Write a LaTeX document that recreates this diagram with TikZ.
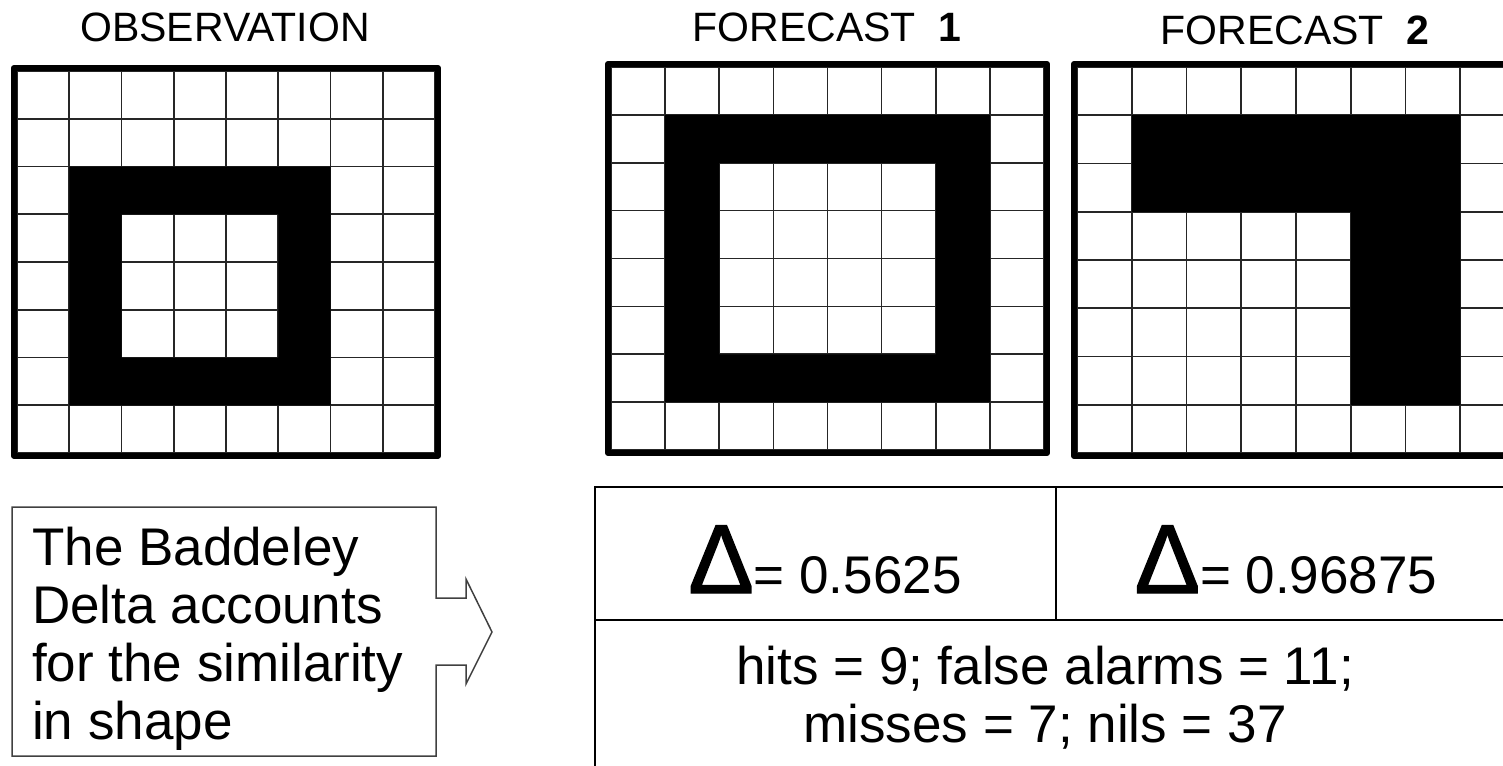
\documentclass[tikz,border=0pt]{standalone}
\usepackage{fontspec}
\setmainfont{Liberation Sans}
\newfontfamily\deltafont{Liberation Sans}[FakeBold=1.5]

\tikzset{
  cellline/.style={line width=1.6pt, draw=black!85},
  gridframe/.style={line width=6pt, line join=round},
  title/.style={font=\fontsize{41}{41}\selectfont, inner sep=0pt, anchor=base},
  bigtext/.style={font=\fontsize{53}{58}\selectfont, inner sep=0pt},
  calloutline/.style={line width=1.5pt, draw=black!75, line join=miter},
  tablerule/.style={line width=2pt},
}
\newcommand{\bigdelta}{{\deltafont\fontsize{98}{98}\selectfont Δ}}

\begin{document}
\begin{tikzpicture}[x=1pt, y=-1pt]
\useasboundingbox (0,0) rectangle (1503,765);
\clip (0,0) rectangle (1503,765);

% observation
\begin{scope}[shift={(17,71)}, x=52.25pt, y=-47.75pt]
  \foreach \i in {0,...,8} {
    \draw[cellline] (\i,0) -- (\i,8);
    \draw[cellline] (0,\i) -- (8,\i);
  }
  \fill[even odd rule] (1,2) rectangle (6,7) (2,3) rectangle (5,6);
  \draw[gridframe] (-0.06,-0.06) rectangle (8.06,8.06);
\end{scope}

% forecast 1
\begin{scope}[shift={(611,67)}, x=54.125pt, y=-47.875pt]
  \foreach \i in {0,...,8} {
    \draw[cellline] (\i,0) -- (\i,8);
    \draw[cellline] (0,\i) -- (8,\i);
  }
  \fill[even odd rule] (1,1) rectangle (7,7) (2,2) rectangle (6,6);
  \draw[gridframe] (-0.055,-0.063) rectangle (8.055,8.063);
\end{scope}

% forecast 2
\begin{scope}[shift={(1077,67)}, x=54.75pt, y=-48.25pt]
  \foreach \i in {0,...,8} {
    \draw[cellline] (\i,0) -- (\i,8);
    \draw[cellline] (0,\i) -- (8,\i);
  }
  \fill (1,1) -- (7,1) -- (7,7) -- (5,7) -- (5,3) -- (1,3) -- cycle;
  \draw[gridframe] (-0.055,-0.063) rectangle (8.055,8.063);
\end{scope}

\node[title] (obsTitle) at (225,42) {OBSERVATION};
\node[title] (fcOneTitle) at (827,42) {FORECAST\ \ \textbf{1}};
\node[title] (fcTwoTitle) at (1295,45) {FORECAST\ \ \textbf{2}};

% note with arrow
\coordinate (boxNW) at (12,507);
\coordinate (boxNE) at (436,507);
\coordinate (boxSE) at (436,756);
\coordinate (boxSW) at (12,756);
\coordinate (arrowTip) at (492,632);
\draw[calloutline] (boxNW) -- (boxNE) -- (436,598) -- (466,598) -- (466,579)
  -- (arrowTip) -- (466,684) -- (466,665) -- (436,665) -- (boxSE) -- (boxSW) -- cycle;
\node[bigtext, anchor=north west, align=left] (note) at (32,527)
  {The Baddeley\\Delta accounts\\for the similarity\\in shape};

% table
\coordinate (tabNW) at (595,487);
\coordinate (tabNE) at (1517,487);
\coordinate (tabMid) at (1056,487);
\draw[tablerule] (595,800) -- (tabNW) -- (tabNE) -- (1517,800);
\draw[tablerule] (595,620) -- (1517,620);
\draw[tablerule] (tabMid) -- (1056,620);
\node[bigtext, anchor=base] (deltaOne) at (825,593) {\bigdelta= 0.5625};
\node[bigtext, anchor=base] (deltaTwo) at (1286,593) {\bigdelta= 0.96875};
\node[bigtext, anchor=north, align=center] (counts) at (1045,646)
  {hits = 9; false alarms = 11;\\misses = 7; nils = 37};

\end{tikzpicture}
\end{document}
